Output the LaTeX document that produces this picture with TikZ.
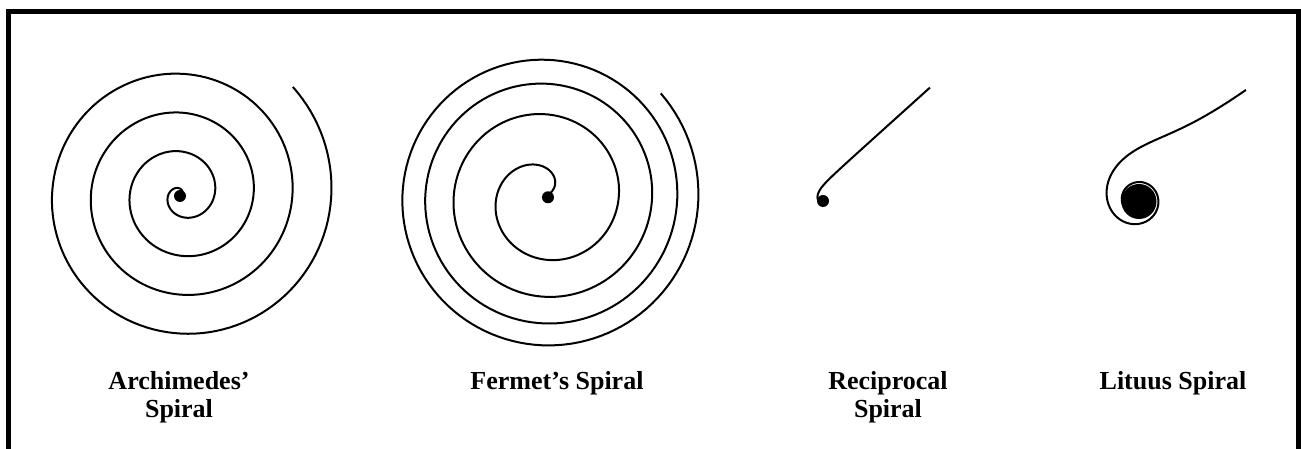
\documentclass[tikz,border=0pt]{standalone}
\usepackage{fontspec}
\setmainfont{Liberation Serif}
\usepackage{tikz}
\newcommand{\capfont}{\fontsize{13}{14}\selectfont\bfseries}

\begin{document}
\begin{tikzpicture}[
      x=0.5pt, y=0.5pt,
      frame/.style={draw=black, line width=2.5pt},
      spiral/.style={draw=black, line width=1pt, line join=round},
      pole/.style={fill=black},
      caption/.style={font=\capfont, align=center, inner sep=0pt, anchor=base}
  ]
      \useasboundingbox (0,0) rectangle (1301,449);

      % Frame (open at the bottom)
      \draw[frame] (8.5,0) -- (8.5,437.5) -- (1298.5,437.5) -- (1298.5,0);

      % Archimedes' spiral  r = a(theta - theta0)
      \begin{scope}[shift={(182,255)}]
        \draw[spiral] plot[domain=57:1484, samples=500, variable=\t]
              ({0.108*(\t-57)*cos(\t)}, {0.108*(\t-57)*sin(\t)});
      \end{scope}
      \fill[pole] (180,253) circle (6);

      % Fermat's spiral  r^2 = a^2(theta - theta0)
      \begin{scope}[shift={(545.3,251.7)}]
        \draw[spiral] plot[domain=37:1482, samples=500, variable=\t]
              ({4.087*sqrt(\t-37)*cos(\t)}, {4.087*sqrt(\t-37)*sin(\t)});
      \end{scope}
      \fill[pole] (548,251.7) circle (6);

      % Reciprocal spiral  r = a/theta
      \begin{scope}[shift={(823,249)}]
        \draw[spiral] plot[domain=-2.56:3.7, samples=500, variable=\u]
              ({12*exp(-\u)*cos(deg(exp(\u))+42)}, {12*exp(-\u)*sin(deg(exp(\u))+42)});
        \fill[pole] (0,-1) circle (6);
      \end{scope}

      % Lituus  r^2 theta = a^2
      \begin{scope}[shift={(1138,249)}]
        \draw[spiral] plot[domain=-2.333:2.5, samples=400, variable=\u]
              ({48*exp(-\u/2)*cos(deg(exp(\u))+40)}, {48*exp(-\u/2)*sin(deg(exp(\u))+40)});
        \fill[pole] (1,-1.5) circle (17.5);
      \end{scope}

      % Captions (base = last line)
      \node[caption] (arch) at (179,31.5) {Archimedes’\\Spiral};
      \node[caption] (ferm) at (557,59.5) {Fermet’s Spiral};
      \node[caption] (recip) at (888,31.5) {Reciprocal\\Spiral};
      \node[caption] (lit) at (1173,59.5) {Lituus Spiral};
\end{tikzpicture}
\end{document}
